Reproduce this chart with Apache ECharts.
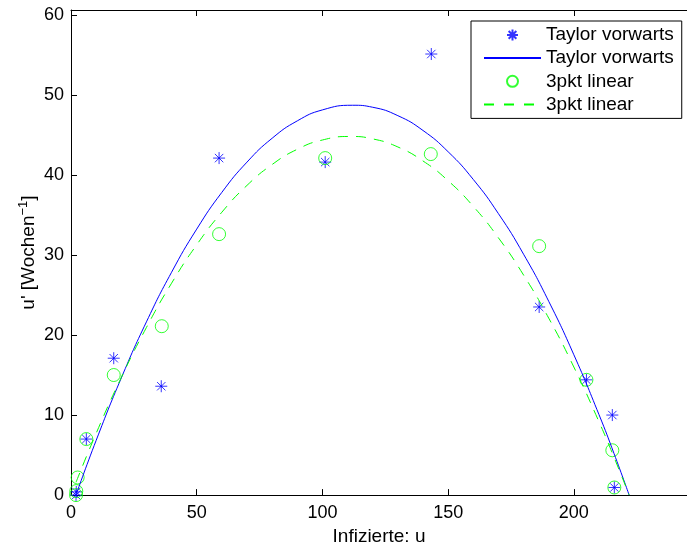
<!DOCTYPE html>
<html>
<head>
<meta charset="utf-8">
<script src="https://cdn.jsdelivr.net/npm/echarts@6/dist/echarts.min.js"></script>
<style>
html,body{margin:0;padding:0;background:#fff;}
#chart{width:687px;height:551px;}
</style>
</head>
<body>
<div id="chart"></div>
<script>
// Data
const taylorU = [2.0, 2.1, 6.1, 17.0, 35.9, 58.9, 101.1, 143.3, 186.2, 205.0, 215.3, 216.1];
const taylorV = [0.0, 0.4, 7.0, 17.1, 13.6, 42.1, 41.6, 55.1, 23.5, 14.4, 10.0, 0.95];

const linU = [2.0, 2.1, 2.65, 6.1, 17.0, 36.1, 58.9, 101.1, 143.1, 186.2, 205.0, 215.3, 216.1];
const linV = [0.0, 0.5, 2.2, 7.0, 15.0, 21.1, 32.6, 42.1, 42.6, 31.1, 14.4, 5.6, 0.95];

const taylorFitU = [2.2, 10, 20, 30, 40, 50, 60, 70, 80, 90, 100, 112, 120, 130, 140, 150, 160, 170, 180, 190, 200, 210, 216, 222];
const taylorFitV = [0.2, 6.83, 14.63, 21.64, 27.84, 33.23, 37.82, 41.60, 44.58, 46.75, 48.12, 48.70, 48.45, 47.40, 45.55, 42.89, 39.43, 35.16, 30.09, 24.21, 17.53, 10.05, 5.17, 0.0];

const linFitU = [2.0, 10, 20, 30, 40, 50, 60, 70, 80, 90, 100, 111, 120, 130, 140, 150, 160, 170, 180, 190, 200, 210, 216, 222];
const linFitV = [1.6, 7.71, 14.69, 20.94, 26.47, 31.27, 35.34, 38.69, 41.30, 43.20, 44.36, 44.80, 44.50, 43.49, 41.74, 39.27, 36.07, 32.14, 27.49, 22.11, 16.00, 9.16, 4.71, 0.0];

const xTicks = [0, 50, 100, 150, 200];
const yTicks = [0, 10, 20, 30, 40, 50, 60];

const legendLabels = {
  taylorPts: 'Taylor vorwarts',
  taylorFit: 'Taylor vorwarts',
  linPts: '3pkt linear',
  linFit: '3pkt linear'
};

const xLabel = 'Infizierte: u';

const pair = (xs, ys) => xs.map((x, i) => [x, ys[i]]);

const FONT = '"Liberation Sans", Arial, Helvetica, sans-serif';
const starPath = 'path://M0,-10L0,10M-10,0L10,0M-7,-7L7,7M-7,7L7,-7';

const chart = echarts.init(document.getElementById('chart'), null, {renderer: 'canvas'});

chart.setOption({
  animation: false,
  backgroundColor: '#ffffff',
  textStyle: {fontFamily: FONT},
  grid: {left: 71, top: 10, right: -3, bottom: 50, containLabel: false},
  xAxis: [{
    type: 'value', min: 0, max: 245, interval: 50,
    name: xLabel, nameLocation: 'middle', nameGap: 29,
    nameTextStyle: {fontSize: 19, color: '#000', fontFamily: FONT},
    axisLine: {show: true, onZero: false, lineStyle: {color: '#000', width: 1}},
    axisTick: {show: true, inside: true, length: 6, lineStyle: {color: '#000'}},
    axisLabel: {fontSize: 18, color: '#000', margin: 9, fontFamily: FONT, showMaxLabel: false,
      formatter: v => xTicks.indexOf(v) >= 0 ? String(v) : ''},
    splitLine: {show: false}
  }, {
    type: 'value', min: 0, max: 245, interval: 50, position: 'top',
    axisLine: {show: true, onZero: false, lineStyle: {color: '#000', width: 1}},
    axisTick: {show: true, inside: true, length: 6, lineStyle: {color: '#000'}},
    axisLabel: {show: false},
    splitLine: {show: false}
  }],
  yAxis: [{
    type: 'value', min: 0, max: 60.6, interval: 10,
    name: "u' [Wochen{sup|−1}]", nameLocation: 'middle', nameGap: 30, nameRotate: 90,
    nameMoveOverlap: false,
    nameTextStyle: {fontSize: 19, color: '#000', fontFamily: FONT, lineHeight: 24,
      rich: {sup: {fontSize: 13, color: '#000', fontFamily: FONT, verticalAlign: 'top', lineHeight: 13}}},
    axisLine: {show: true, onZero: false, lineStyle: {color: '#000', width: 1}},
    axisTick: {show: true, inside: true, length: 6, lineStyle: {color: '#000'}},
    axisLabel: {fontSize: 18, color: '#000', margin: 7, fontFamily: FONT, showMaxLabel: false,
      formatter: v => yTicks.indexOf(v) >= 0 ? String(v) : ''},
    splitLine: {show: false}
  }],
  legend: {
    orient: 'vertical',
    left: 471, top: 21,
    padding: [4.4, 8, 4.4, 12],
    itemWidth: 57, itemHeight: 11, itemGap: 4.2,
    backgroundColor: '#ffffff',
    borderColor: '#000', borderWidth: 1, borderRadius: 0,
    textStyle: {fontSize: 19, color: '#000', fontFamily: FONT},
    formatter: name => legendLabels[name],
    data: [
      {name: 'taylorPts'},
      {name: 'taylorFit', itemStyle: {opacity: 0}},
      {name: 'linPts'},
      {name: 'linFit', itemStyle: {opacity: 0}, lineStyle: {type: [10, 10]}}
    ]
  },
  series: [{
    name: 'taylorPts', type: 'scatter',
    data: pair(taylorU, taylorV),
    symbol: starPath, symbolSize: 12,
    itemStyle: {color: 'none', borderColor: '#0000ff', borderWidth: 1}
  }, {
    name: 'taylorFit', type: 'line',
    data: pair(taylorFitU, taylorFitV),
    showSymbol: false, symbol: 'none', smooth: true,
    lineStyle: {color: '#0000ff', width: 1},
    itemStyle: {color: '#0000ff'}
  }, {
    name: 'linPts', type: 'scatter',
    data: pair(linU, linV),
    symbol: 'circle', symbolSize: 13,
    itemStyle: {color: 'none', borderColor: '#00ff00', borderWidth: 1}
  }, {
    name: 'linFit', type: 'line',
    data: pair(linFitU, linFitV),
    showSymbol: false, symbol: 'none', smooth: true,
    lineStyle: {color: '#00ff00', width: 1, type: [10, 8]},
    itemStyle: {color: '#00ff00'}
  }]
});
</script>
</body>
</html>
